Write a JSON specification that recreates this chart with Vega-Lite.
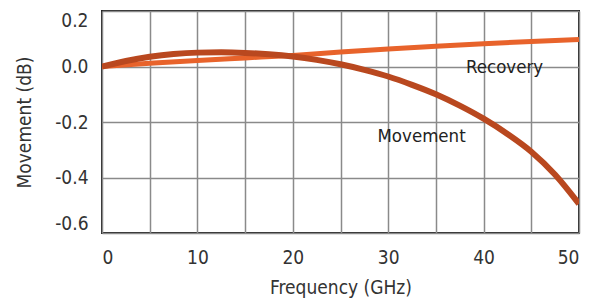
{
  "$schema": "https://vega.github.io/schema/vega-lite/v6.json",
  "width": 477,
  "height": 222,
  "autosize": "none",
  "padding": {"left": 102, "top": 11, "right": 14, "bottom": 74},
  "background": "white",
  "config": {
    "view": {"stroke": "#222222", "strokeWidth": 2},
    "font": "DejaVu Sans Condensed"
  },
  "datasets": {
    "curves": [
      {"series": "Recovery", "f": 0, "db": 0.0},
      {"series": "Recovery", "f": 5, "db": 0.012},
      {"series": "Recovery", "f": 10, "db": 0.022},
      {"series": "Recovery", "f": 15, "db": 0.031},
      {"series": "Recovery", "f": 20, "db": 0.04},
      {"series": "Recovery", "f": 25, "db": 0.052},
      {"series": "Recovery", "f": 30, "db": 0.063},
      {"series": "Recovery", "f": 35, "db": 0.073},
      {"series": "Recovery", "f": 40, "db": 0.082},
      {"series": "Recovery", "f": 45, "db": 0.09},
      {"series": "Recovery", "f": 50, "db": 0.097},
      {"series": "Movement", "f": 0, "db": 0.0},
      {"series": "Movement", "f": 2.5, "db": 0.02},
      {"series": "Movement", "f": 5, "db": 0.035},
      {"series": "Movement", "f": 7.5, "db": 0.045},
      {"series": "Movement", "f": 10, "db": 0.05},
      {"series": "Movement", "f": 12.5, "db": 0.051},
      {"series": "Movement", "f": 15, "db": 0.049},
      {"series": "Movement", "f": 17.5, "db": 0.044},
      {"series": "Movement", "f": 20, "db": 0.036},
      {"series": "Movement", "f": 22.5, "db": 0.024},
      {"series": "Movement", "f": 25, "db": 0.008},
      {"series": "Movement", "f": 27.5, "db": -0.012},
      {"series": "Movement", "f": 30, "db": -0.036},
      {"series": "Movement", "f": 32.5, "db": -0.066},
      {"series": "Movement", "f": 35, "db": -0.1},
      {"series": "Movement", "f": 37.5, "db": -0.141},
      {"series": "Movement", "f": 40, "db": -0.188},
      {"series": "Movement", "f": 42.5, "db": -0.243},
      {"series": "Movement", "f": 45, "db": -0.307},
      {"series": "Movement", "f": 47.5, "db": -0.39},
      {"series": "Movement", "f": 50, "db": -0.495}
    ],
    "labels": [
      {"name": "Recovery", "f": 42.2, "db": 0.0},
      {"name": "Movement", "f": 33.5, "db": -0.25}
    ]
  },
  "layer": [
    {
      "data": {"name": "curves"},
      "transform": [{"filter": "datum.series === 'Recovery'"}],
      "mark": {"type": "line", "color": "#e8632b", "strokeWidth": 5, "interpolate": "monotone", "clip": true},
      "encoding": {
        "x": {
          "field": "f", "type": "quantitative",
          "scale": {"domain": [0, 50], "nice": false},
          "axis": {
            "title": "Frequency (GHz)",
            "values": [0, 5, 10, 15, 20, 25, 30, 35, 40, 45, 50],
            "labelExpr": "datum.value % 10 === 0 ? datum.label : ''",
            "labelFlush": true,
            "grid": true, "gridColor": "#8a8a8a", "gridWidth": 1.5, "gridOpacity": 1,
            "domain": false, "ticks": false,
            "labelPadding": 15, "labelFontSize": 19, "labelColor": "#333333",
            "titleFontSize": 19, "titleFontWeight": "normal", "titleColor": "#333333", "titlePadding": 11
          }
        },
        "y": {
          "field": "db", "type": "quantitative",
          "scale": {"domain": [-0.6, 0.2], "nice": false},
          "axis": {
            "title": "Movement (dB)",
            "values": [-0.6, -0.5, -0.4, -0.3, -0.2, -0.1, 0, 0.1, 0.2],
            "labelExpr": "round(datum.value * 10) % 2 === 0 ? replace(format(datum.value, '.1f'), '\u2212', '-') : ''",
            "labelFlush": true,
            "grid": true, "gridColor": "#8a8a8a", "gridWidth": 1.5, "gridOpacity": 1,
            "domain": false, "ticks": false,
            "labelPadding": 14, "labelFontSize": 19, "labelColor": "#333333",
            "titleFontSize": 19, "titleFontWeight": "normal", "titleColor": "#333333", "titlePadding": 20
          }
        }
      }
    },
    {
      "data": {"name": "curves"},
      "transform": [{"filter": "datum.series === 'Movement'"}],
      "mark": {"type": "line", "color": "#b9481f", "strokeWidth": 6, "interpolate": "monotone", "clip": true},
      "encoding": {
        "x": {"field": "f", "type": "quantitative"},
        "y": {"field": "db", "type": "quantitative"}
      }
    },
    {
      "data": {"name": "labels"},
      "mark": {"type": "text", "fontSize": 18.5, "color": "#222222", "align": "center", "baseline": "middle"},
      "encoding": {
        "x": {"field": "f", "type": "quantitative"},
        "y": {"field": "db", "type": "quantitative"},
        "text": {"field": "name"}
      }
    }
  ]
}
